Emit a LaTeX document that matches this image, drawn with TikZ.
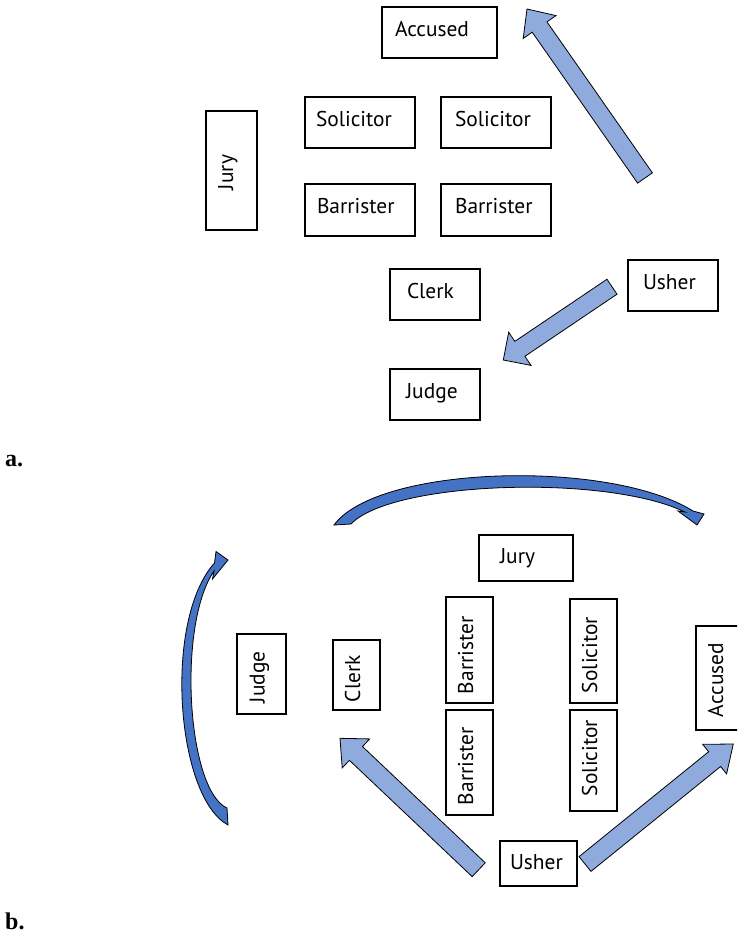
\documentclass[tikz,border=0pt]{standalone}
\usepackage{fontspec}
\setmainfont{PT Sans}
\newfontfamily\partfont{Liberation Serif}
\usetikzlibrary{calc}

\definecolor{blockfill}{HTML}{8FAADC}
\definecolor{curvefill}{HTML}{4472C4}
\newcommand\seatfont{\fontsize{21.4pt}{25pt}\selectfont}

\tikzset{
  seat/.style n args={4}{draw=black, line width=1.1pt, inner sep=0pt,
    font=\seatfont, align=left,
    minimum width=#1, text width=#1, minimum height=#2,
    text height=#3, text depth=#4},
  blockarrow/.style={fill=blockfill, draw=black, line width=0.8pt, line join=miter},
  curvearrow/.style={fill=curvefill, draw=black, line width=0.8pt, line join=miter},
  partlabel/.style={anchor=base west, inner sep=0pt,
    font=\partfont\bfseries\fontsize{24pt}{28pt}\selectfont}
}

% straight block arrow: tail, tip, half shaft width, half head width, head length
\newcommand\blockarrow[5]{%
  \coordinate (#2-base) at ($(#2)!#5pt!(#1)$);
  \filldraw[blockarrow]
    ($(#1)!#3pt!90:(#2)$) -- ($(#2-base)!#3pt!-90:(#1)$)
    -- ($(#2-base)!#4pt!-90:(#1)$) -- (#2)
    -- ($(#2-base)!#4pt!90:(#1)$) -- ($(#2-base)!#3pt!90:(#1)$)
    -- ($(#1)!#3pt!-90:(#2)$) -- cycle;
}

\begin{document}
\begin{tikzpicture}[x=1pt, y=-1pt]
\useasboundingbox (0,0) rectangle (737,935);
\clip (0,0) rectangle (737,935);

% ---------------- layout a ----------------
\node[seat={115pt}{51pt}{29.5pt}{21.5pt}] (accA) at (439.5,32.5) {\hspace*{13pt}Accused};
\node[seat={110pt}{51pt}{29.5pt}{21.5pt}] (solA1) at (360,122.5) {\hspace*{11pt}Solicitor};
\node[seat={110pt}{51pt}{29.5pt}{21.5pt}] (solA2) at (496,122.5) {\hspace*{14pt}Solicitor};
\node[seat={119pt}{51pt}{27pt}{24pt}, rotate=90] (juryA) at (231.5,170.5) {\hspace*{40pt}Jury};
\node[seat={110pt}{52pt}{29.5pt}{22.5pt}] (barA1) at (360,210) {\hspace*{12pt}Barrister};
\node[seat={110pt}{52pt}{29.5pt}{22.5pt}] (barA2) at (496,210) {\hspace*{14pt}Barrister};
\node[seat={90pt}{51pt}{29.5pt}{21.5pt}] (clerkA) at (435,294.5) {\hspace*{17pt}Clerk};
\node[seat={90pt}{51pt}{29.5pt}{21.5pt}] (usherA) at (673,285.5) {\hspace*{15pt}Usher};
\node[seat={90pt}{51pt}{29.5pt}{21.5pt}] (judgeA) at (435,394.5) {\hspace*{16pt}Judge};

\coordinate (a1t) at (645,178);
\coordinate (a1h) at (527,9);
\blockarrow{a1t}{a1h}{9}{20}{22}
\coordinate (a2t) at (612,286.7);
\coordinate (a2h) at (503.3,360);
\blockarrow{a2t}{a2h}{9}{20}{20}

\node[partlabel] (labA) at (5,466) {a.};

% ---------------- layout b ----------------
\node[seat={94pt}{46pt}{28pt}{18pt}] (juryB) at (526,558) {\hspace*{21pt}Jury};
\node[seat={80pt}{49pt}{27.5pt}{21.5pt}, rotate=90] (judgeB) at (261.5,674) {\hspace*{11pt}Judge};
\node[seat={70pt}{47pt}{27pt}{20pt}, rotate=90] (clerkB) at (356.5,675) {\hspace*{8pt}Clerk};
\node[seat={106pt}{47pt}{27pt}{20pt}, rotate=90] (barB1) at (469.5,650) {\hspace*{9pt}Barrister};
\node[seat={105pt}{47pt}{27pt}{20pt}, rotate=90] (barB2) at (469.5,762.5) {\hspace*{10pt}Barrister};
\node[seat={104pt}{47pt}{27pt}{20pt}, rotate=90] (solB1) at (593.5,651) {\hspace*{10pt}Solicitor};
\node[seat={101pt}{47pt}{27pt}{20pt}, rotate=90] (solB2) at (593.5,760.5) {\hspace*{15pt}Solicitor};
\node[seat={104pt}{47pt}{27pt}{20pt}, rotate=90] (accB) at (719.5,678) {\hspace*{13pt}Accused};
\node[seat={77pt}{45pt}{28pt}{17pt}] (usherB) at (538.5,863.5) {\hspace*{10pt}Usher};

\coordinate (b1t) at (478.7,869.7);
\coordinate (b1h) at (340,738.3);
\blockarrow{b1t}{b1h}{9.5}{20}{22}
\coordinate (b2t) at (585,864);
\coordinate (b2h) at (733.3,744);
\blockarrow{b2t}{b2h}{9.5}{19}{24}

% tapered curved arrows
\filldraw[curvearrow]
  (334,525) .. controls (378,465) and (610,459) .. (693,511)
  -- (704,514) -- (697,525) -- (678,511) -- (685,512)
  .. controls (606,474) and (392,481) .. (351,524) -- cycle;

\filldraw[curvearrow]
  (228,825) .. controls (176,797) and (163,620) .. (214.5,563)
  -- (216,551.5) -- (228,560) -- (212.5,579) -- (214,571)
  .. controls (177,625) and (187,790) .. (227,808) -- cycle;

\node[partlabel] (labB) at (5,929) {b.};
\end{tikzpicture}
\end{document}
